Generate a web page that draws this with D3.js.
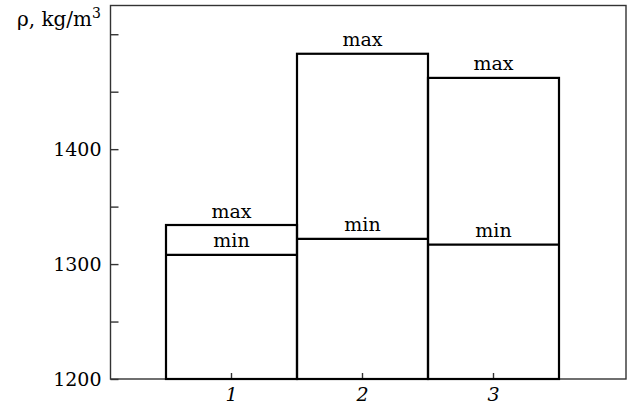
<!DOCTYPE html>
<html>
<head>
<meta charset="utf-8">
<script src="https://cdn.jsdelivr.net/npm/d3@7"></script>
<style>
  body { margin: 0; background: #fff; }
  svg text { font-family: "DejaVu Serif", serif; fill: #000; }
</style>
</head>
<body>
<figure id="chart" style="margin:0"></figure>
<script>
// data
const categories = ["1", "2", "3"];
const maxValues = [1334, 1483, 1462];
const minValues = [1308, 1322, 1317];
const yTicks = [1200, 1250, 1300, 1350, 1400, 1450, 1500];
const yLabels = [1200, 1300, 1400];

const W = 632, H = 410;
const frame = {left: 110.5, right: 626, top: 5.5, bottom: 379};

const svg = d3.select("figure#chart")
  .append("svg")
  .attr("width", W)
  .attr("height", H)
  .style("font-family", "'DejaVu Serif', serif");

const y = d3.scaleLinear().domain([1200, 1525]).range([frame.bottom, frame.top]);
const x = d3.scaleBand().domain(categories).range([166, 559]).padding(0);

// frame box
svg.append("rect")
  .attr("x", frame.left)
  .attr("y", frame.top)
  .attr("width", frame.right - frame.left)
  .attr("height", frame.bottom - frame.top)
  .attr("fill", "none")
  .attr("stroke", "#333")
  .attr("stroke-width", 1.4);

const yAxis = svg.append("g")
  .attr("transform", "translate(" + frame.left + ",0)")
  .call(d3.axisLeft(y)
    .tickValues(yTicks)
    .tickSize(-8)
    .tickPadding(9)
    .tickFormat(d => yLabels.includes(d) ? d : ""));
yAxis.attr("font-family", null);
yAxis.select(".domain").remove();
yAxis.selectAll(".tick line").attr("stroke", "#333").attr("stroke-width", 1.4);
yAxis.selectAll(".tick text")
  .style("font-size", "19px")
  .attr("fill", "#000");

const xAxis = svg.append("g")
  .attr("transform", "translate(0," + frame.bottom + ")")
  .call(d3.axisBottom(x).tickSize(-6).tickPadding(9));
xAxis.attr("font-family", null);
xAxis.select(".domain").remove();
xAxis.selectAll(".tick line").attr("stroke", "#333").attr("stroke-width", 1.4);
xAxis.selectAll(".tick text")
  .style("font-size", "19px")
  .style("font-style", "italic")
  .attr("fill", "#000");

// bars
const bars = svg.append("g").selectAll("g")
  .data(categories)
  .enter()
  .append("g");

bars.append("rect")
  .attr("x", d => x(d))
  .attr("y", (d, i) => y(maxValues[i]))
  .attr("width", x.bandwidth())
  .attr("height", (d, i) => y(1200) - y(maxValues[i]))
  .attr("fill", "none")
  .attr("stroke", "#000")
  .attr("stroke-width", 2.2);

bars.append("line")
  .attr("x1", d => x(d))
  .attr("x2", d => x(d) + x.bandwidth())
  .attr("y1", (d, i) => y(minValues[i]))
  .attr("y2", (d, i) => y(minValues[i]))
  .attr("stroke", "#000")
  .attr("stroke-width", 2.2);

bars.append("text")
  .attr("x", d => x(d) + x.bandwidth() / 2)
  .attr("y", (d, i) => y(maxValues[i]) - 7.5)
  .attr("text-anchor", "middle")
  .style("font-size", "19px")
  .text("max");

bars.append("text")
  .attr("x", d => x(d) + x.bandwidth() / 2)
  .attr("y", (d, i) => y(minValues[i]) - 8)
  .attr("text-anchor", "middle")
  .style("font-size", "19px")
  .text("min");

// y axis title
const title = svg.append("text")
  .attr("x", 101)
  .attr("y", 26)
  .attr("text-anchor", "end")
  .style("font-size", "20px");
title.append("tspan").text("ρ, kg/m");
title.append("tspan").attr("dy", -8).style("font-size", "14px").text("3");
</script>
</body>
</html>
